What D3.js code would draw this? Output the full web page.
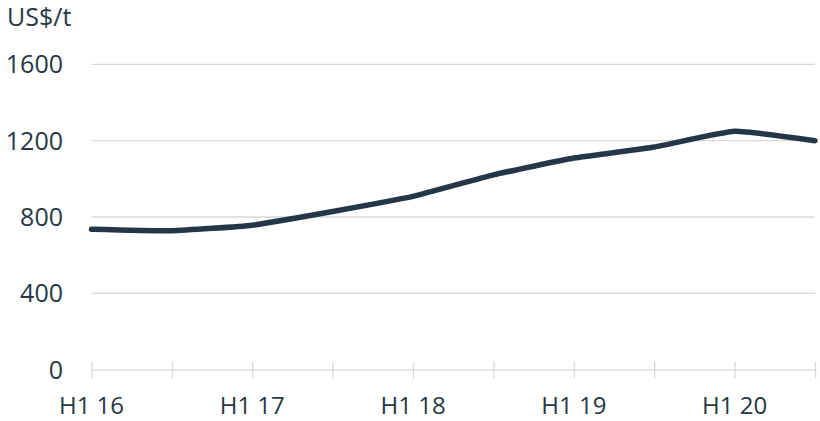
<!DOCTYPE html>
<html>
<head>
<meta charset="utf-8">
<script src="https://cdn.jsdelivr.net/npm/d3@7"></script>
<style>
  body { margin: 0; background: #fff; }
  text { font-family: "Open Sans", sans-serif; fill: #263746; }
</style>
</head>
<body>
<div id="chart"></div>
<script>
// half-year periods and price in US$/t
var periods = ['H1 16', 'H2 16', 'H1 17', 'H2 17', 'H1 18', 'H2 18', 'H1 19', 'H2 19', 'H1 20', 'H2 20'];
var prices = [736, 728, 757, 829, 908, 1021, 1109, 1167, 1249, 1200];
var yTicks = [0, 400, 800, 1200, 1600];
var unitLabel = 'US$/t';

var width = 820,
  height = 421;

var svg = d3.select('#chart')
  .append('svg')
  .attr('width', width)
  .attr('height', height);

// x positions sit on tick marks
var x = d3.scalePoint()
  .domain(periods)
  .range([91.5, 815]);

var y = d3.scaleLinear()
  .domain([0, 1600])
  .range([369.6, 64.4]);

// gridlines
svg.append('g')
  .selectAll('line')
  .data(yTicks.filter(function(d) { return d > 0; }))
  .enter()
  .append('line')
  .attr('x1', 91.5)
  .attr('x2', 815)
  .attr('y1', function(d) { return y(d); })
  .attr('y2', function(d) { return y(d); })
  .attr('stroke', '#d9d9d9')
  .attr('stroke-width', 1.3);

// y labels
svg.append('g')
  .selectAll('text')
  .data(yTicks)
  .enter()
  .append('text')
  .attr('x', 63)
  .attr('y', function(d) { return y(d); })
  .attr('dy', '0.36em')
  .attr('text-anchor', 'end')
  .style('font-size', '25px')
  .text(function(d) { return d; });

// x axis with cross ticks
var xAxis = svg.append('g')
  .attr('transform', 'translate(0,' + y(0) + ')')
  .call(d3.axisBottom(x).tickSizeInner(8).tickSizeOuter(0).tickFormat(''));

xAxis.select('.domain').attr('stroke', '#d9d9d9').attr('stroke-width', 1.3);
xAxis.selectAll('.tick line')
  .attr('y1', -8)
  .attr('y2', 9)
  .attr('stroke', '#d9d9d9')
  .attr('stroke-width', 1.3);

// only every other label shown
svg.append('g')
  .selectAll('text')
  .data(periods.filter(function(d, i) { return i % 2 == 0; }))
  .enter()
  .append('text')
  .attr('x', function(d) { return x(d); })
  .attr('y', 414)
  .attr('text-anchor', 'middle')
  .style('font-size', '24px')
  .text(function(d) { return d; });

// unit label
svg.append('text')
  .attr('x', 7)
  .attr('y', 26)
  .style('font-size', '25px')
  .text(unitLabel);

// price line, lightly smoothed
var line = d3.line()
  .x(function(d, i) { return x(periods[i]); })
  .y(function(d) { return y(d); })
  .curve(d3.curveCardinal.tension(0.6));

svg.append('path')
  .datum(prices)
  .attr('d', line)
  .attr('fill', 'none')
  .attr('stroke', '#253746')
  .attr('stroke-width', 5.5)
  .attr('stroke-linecap', 'round')
  .attr('stroke-linejoin', 'round');
</script>
</body>
</html>
